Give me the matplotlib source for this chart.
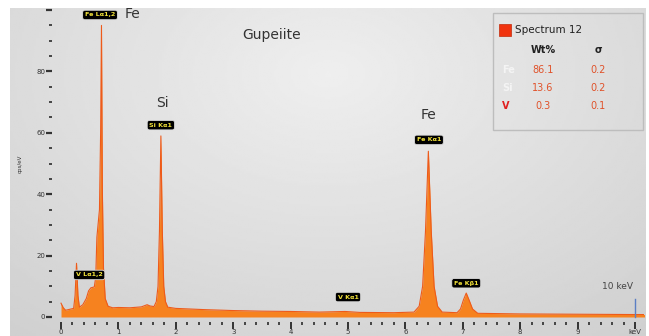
import numpy as np
import matplotlib
matplotlib.use("Agg")
from matplotlib import pyplot as plt
from matplotlib.patches import Rectangle

# spectrum (keV, cps/eV)
energia = [0.00, 0.04, 0.08, 0.15, 0.22, 0.245, 0.27, 0.295, 0.32, 0.38, 0.44, 0.48,
           0.52, 0.58, 0.605, 0.625, 0.65, 0.67, 0.69, 0.705, 0.72, 0.74, 0.77, 0.82,
           0.90, 1.00, 1.20, 1.40, 1.50, 1.55, 1.62, 1.66, 1.69, 1.715, 1.74, 1.765,
           1.79, 1.82, 1.86, 2.00, 2.50, 3.00, 3.50, 4.00, 4.50, 4.95, 5.20, 5.80,
           6.15, 6.24, 6.30, 6.35, 6.40, 6.45, 6.50, 6.56, 6.64, 6.90, 6.96, 7.01,
           7.06, 7.11, 7.17, 7.26, 8.00, 9.00, 10.00, 10.30]
contagem = [4.5, 3.0, 2.2, 2.5, 2.8, 7.0, 17.5, 7.0, 3.2, 4.0, 6.0, 8.5,
            9.5, 9.8, 13.0, 26.0, 31.0, 35.0, 60.0, 95.0, 42.0, 16.0, 6.0, 3.5,
            3.0, 3.1, 3.0, 3.3, 4.0, 3.6, 3.4, 5.0, 10.0, 28.0, 59.0, 28.0,
            10.0, 5.0, 3.2, 2.8, 2.4, 2.1, 1.9, 1.8, 1.6, 1.8, 1.5, 1.4,
            1.6, 3.5, 10.0, 28.0, 54.0, 28.0, 10.0, 3.5, 1.6, 1.4, 2.6, 5.5,
            7.8, 5.5, 2.6, 1.2, 1.0, 0.9, 0.8, 0.8]

# peak labels: text, x (keV), y (cps/eV)
rotulos = ["Fe Lα1,2", "V Lα1,2", "Si Kα1", "V Kα1", "Fe Kα1", "Fe Kβ1"]
rot_x = [0.68, 0.49, 1.74, 5.00, 6.41, 7.06]
rot_y = [98.4, 13.7, 62.5, 6.5, 57.7, 11.0]

# element names above the peaks
elementos = ["Fe", "Si", "Fe"]
elem_x = [1.24, 1.76, 6.41]
elem_y = [98.7, 69.7, 65.8]

# quantification table
tab_elem = ["Fe", "Si", "V"]
tab_wt = ["86.1", "13.6", "0.3"]
tab_sigma = ["0.2", "0.2", "0.1"]

W, H = 649, 336
fig = plt.figure(figsize=(W / 100, H / 100), dpi=100, facecolor="white")

def fx(px):
    return px / W

def fy(py):
    return 1 - py / H

# gray gradient panel
bg = fig.add_axes([fx(10), 0, fx(636), fy(8)])
gx = np.linspace(-1, 1, 300)
gy = np.linspace(-1, 1, 160)
GX, GY = np.meshgrid(gx, gy)
grad = 0.935 - 0.085 * np.clip(np.sqrt((GX * 0.9) ** 2 + ((GY + 0.6) * 0.7) ** 2), 0, 1.4)
bg.imshow(grad, cmap="gray", vmin=0, vmax=1, aspect="auto", extent=[0, 1, 0, 1])
bg.axis("off")

# spectrum axes
ax = fig.add_axes([fx(52.4), 1 - 321.6 / H, fx(591.2), (321.6 - 7) / H])
ax.patch.set_alpha(0)
ax.fill_between(energia, 0, contagem, color="#f6821f", lw=0)
ax.plot(energia, contagem, color="#ee5a1a", lw=0.8)
ax.plot([10, 10], [0, 6], color="#5b7fc4", lw=1)
ax.text(9.69, 9.8, "10 keV", fontsize=6.5, color="#444444", ha="center", va="center")

ax.set_xlim(-0.15, 10.15)
ax.set_ylim(-1.5, 101)
for s in ax.spines.values():
    s.set_visible(False)
ax.set_xticks(range(0, 11))
ax.set_xticklabels([str(i) for i in range(10)] + ["keV"])
ax.set_xticks(np.arange(0, 10.01, 0.2), minor=True)
ax.set_yticks([0, 20, 40, 60, 80, 100])
ax.set_yticklabels(["0", "20", "40", "60", "80", ""])
ax.set_yticks(np.arange(0, 101, 5), minor=True)
ax.tick_params(axis="x", which="major", length=5, width=1.4, color="#333333",
               labelsize=5, pad=0.5, labelcolor="#333333")
ax.tick_params(axis="x", which="minor", length=2, width=1.4, color="#444444")
ax.tick_params(axis="y", which="major", length=4, width=1.6, color="#333333",
               labelsize=5, pad=1, labelcolor="#333333")
ax.tick_params(axis="y", which="minor", length=2, width=1.4, color="#444444")
ax.set_ylabel("cps/eV", fontsize=4, color="#333333", labelpad=10)

for t, x, y in zip(rotulos, rot_x, rot_y):
    ax.text(x, y, t, fontsize=4.6, color="#f2e23a", ha="center", va="center",
            fontweight="bold",
            bbox=dict(boxstyle="round,pad=0.35", fc="black", ec="#dddddd", lw=0.6))

for t, x, y in zip(elementos, elem_x, elem_y):
    ax.text(x, y, t, fontsize=10, color="#333333", ha="center", va="center")

ax.text(3.67, 91.9, "Gupeiite", fontsize=10, color="#333333", ha="center", va="center")

# quantification box
fig.patches.append(Rectangle((fx(493), fy(130)), fx(150), (130 - 13) / H,
                             transform=fig.transFigure, fc="none", ec="#bdbdbd", lw=1))
fig.patches.append(Rectangle((fx(499), fy(36)), fx(12), 12 / H,
                             transform=fig.transFigure, fc="#f0330e", ec="#c02a0a", lw=0.5))
fig.text(fx(515), fy(30), "Spectrum 12", fontsize=7.5, color="#222222", va="center")
fig.text(fx(543), fy(50), "Wt%", fontsize=7, color="#222222", va="center", ha="center",
         fontweight="bold")
fig.text(fx(598), fy(50), "σ", fontsize=7, color="#222222", va="center", ha="center",
         fontweight="bold")
linhas_y = [70, 88, 106]
cores_elem = ["#f4f4f4", "#f4f4f4", "#e02020"]
for e, w, s, py, c in zip(tab_elem, tab_wt, tab_sigma, linhas_y, cores_elem):
    fig.text(fx(502), fy(py), e, fontsize=7, color=c, va="center", fontweight="bold")
    fig.text(fx(543), fy(py), w, fontsize=7, color="#e0522a", va="center", ha="center")
    fig.text(fx(598), fy(py), s, fontsize=7, color="#e0522a", va="center", ha="center")

fig.savefig("out.png", dpi=100, facecolor="white")
